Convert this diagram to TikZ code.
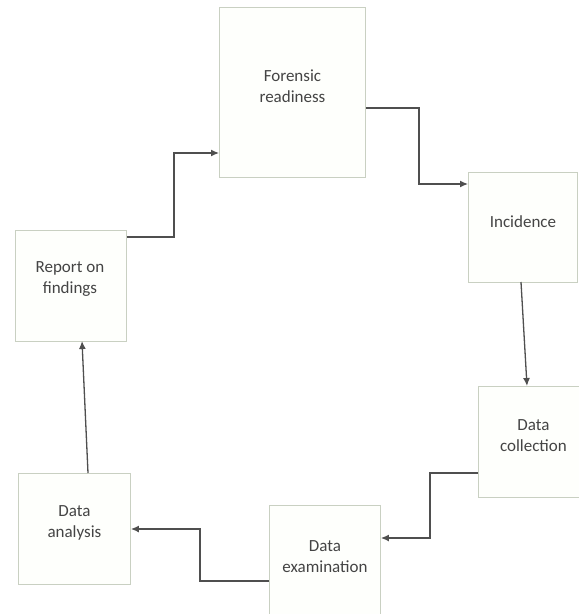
\documentclass[tikz,border=0pt]{standalone}
\usepackage{fontspec}
\setmainfont{Carlito}
\usetikzlibrary{arrows.meta,calc}
\definecolor{boxline}{HTML}{C9D0C2}
\definecolor{boxfill}{HTML}{FEFFFC}
\definecolor{txt}{HTML}{444444}
\definecolor{conn}{HTML}{4F4F4F}
\tikzset{
  box/.style={draw=boxline, fill=boxfill, line width=0.9pt, rectangle, inner sep=0pt, anchor=north west},
  lbl/.style={text=txt, align=center, font=\fontsize{17pt}{21pt}\selectfont, inner sep=0pt},
  connector/.style={draw=conn, line width=1.3pt, -{Latex[length=8pt,width=7pt]}}
}
\begin{document}
\begin{tikzpicture}[x=1pt,y=-1pt]
\useasboundingbox (0,0) rectangle (579,614);
% boxes
\node[box, minimum width=146pt, minimum height=170pt] (fr) at (219,7) {};
\node[box, minimum width=109pt, minimum height=110pt] (inc) at (468,172) {};
\node[box, minimum width=112pt, minimum height=111pt] (col) at (478,386) {};
\node[box, minimum width=111pt, minimum height=114pt] (exa) at (269,505) {};
\node[box, minimum width=112pt, minimum height=111pt] (ana) at (18,473) {};
\node[box, minimum width=111pt, minimum height=111pt] (rep) at (15,230) {};
% labels
\node[lbl] (frt) at ($(fr.center)+(0,-6)$) {Forensic\\readiness};
\node[lbl] (inct) at ($(inc.center)+(0,-6)$) {Incidence};
\node[lbl] (colt) at ($(col.center)+(-1,-6)$) {Data\\collection};
\node[lbl] (exat) at ($(exa.center)+(0,-6)$) {Data\\examination};
\node[lbl] (anat) at ($(ana.center)+(0,-6)$) {Data\\analysis};
\node[lbl] (rept) at ($(rep.center)+(-1,-7)$) {Report on\\findings};
% connectors
\draw[connector] (rep.east |- 0,237) -| (174,153) -- (fr.west |- 0,153);
\draw[connector] (fr.east |- 0,108) -| (419,184) -- (inc.west |- 0,184);
\draw[connector] (521,282) -- (527,386);
\draw[connector] (col.west |- 0,473) -| (430,538) -- (exa.east |- 0,538);
\draw[connector] (exa.west |- 0,581) -| (200,529) -- (ana.east |- 0,529);
\draw[connector] (88,473) -- (82,341);
\end{tikzpicture}
\end{document}
